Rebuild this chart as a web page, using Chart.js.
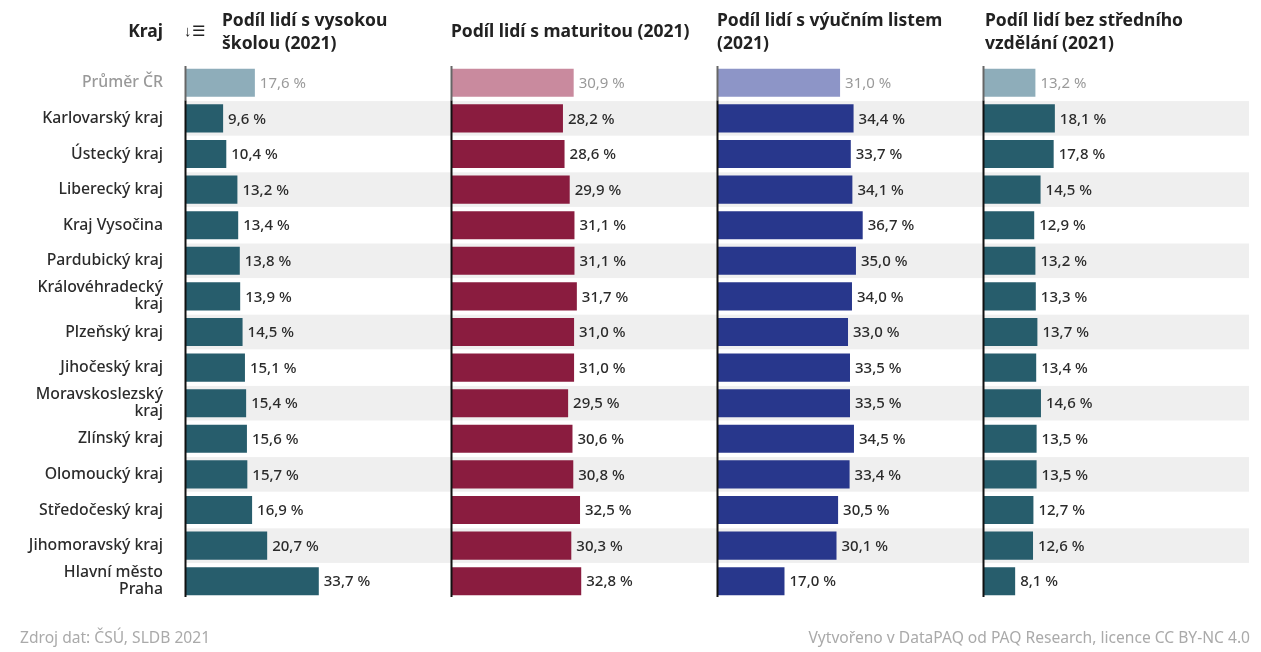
<!DOCTYPE html>
<html lang="cs">
<head>
<meta charset="utf-8">
<script src="https://cdn.jsdelivr.net/npm/chart.js@4"></script>
<style>
  html, body { margin:0; padding:0; background:#fff; }
  body { width:1261px; height:652px; position:relative; overflow:hidden; font-family:"Noto Sans", sans-serif; }
  #wrap { position:absolute; left:0; top:0; width:1261px; height:652px; }
  .hdr { position:absolute; font-weight:700; font-size:17.5px; line-height:23px; color:#222; }
  .foot { position:absolute; top:626px; font-size:15.6px; color:#aaa; }
</style>
</head>
<body>
<div id="wrap"><canvas id="c"></canvas></div>
<div class="hdr" style="left:0; width:163px; text-align:right; top:19px;">Kraj</div>
<div class="hdr" style="left:184px; top:19px; font-weight:400; font-size:15px;">↓☰</div>
<div class="hdr" style="left:222px; top:8px;">Podíl lidí s vysokou<br>školou (2021)</div>
<div class="hdr" style="left:451px; top:19px;">Podíl lidí s maturitou (2021)</div>
<div class="hdr" style="left:717px; top:8px;">Podíl lidí s výučním listem<br>(2021)</div>
<div class="hdr" style="left:985px; top:8px;">Podíl lidí bez středního<br>vzdělání (2021)</div>
<div class="foot" style="left:20px;">Zdroj dat: ČSÚ, SLDB 2021</div>
<div class="foot" style="right:11px;">Vytvořeno v DataPAQ od PAQ Research, licence CC BY-NC 4.0</div>
<script>
const categories = [
  "Průměr ČR", "Karlovarský kraj", "Ústecký kraj", "Liberecký kraj", "Kraj Vysočina",
  "Pardubický kraj", ["Královéhradecký", "kraj"], "Plzeňský kraj", "Jihočeský kraj",
  ["Moravskoslezský", "kraj"], "Zlínský kraj", "Olomoucký kraj", "Středočeský kraj",
  "Jihomoravský kraj", ["Hlavní město", "Praha"]
];
const vysokaSkola = [17.6, 9.6, 10.4, 13.2, 13.4, 13.8, 13.9, 14.5, 15.1, 15.4, 15.6, 15.7, 16.9, 20.7, 33.7];
const maturita    = [30.9, 28.2, 28.6, 29.9, 31.1, 31.1, 31.7, 31.0, 31.0, 29.5, 30.6, 30.8, 32.5, 30.3, 32.8];
const vyucniList  = [31.0, 34.4, 33.7, 34.1, 36.7, 35.0, 34.0, 33.0, 33.5, 33.5, 34.5, 33.4, 30.5, 30.1, 17.0];
const bezStredni  = [13.2, 18.1, 17.8, 14.5, 12.9, 13.2, 13.3, 13.7, 13.4, 14.6, 13.5, 13.5, 12.7, 12.6, 8.1];

const colors = [
  ["#8eadba", "#275d6c"],
  ["#c98a9e", "#8a1c3f"],
  ["#8d95c7", "#28378c"],
  ["#8eadba", "#275d6c"]
];
const seriesList = [vysokaSkola, maturita, vyucniList, bezStredni];
const FONT = '"Noto Sans", sans-serif';
const SCALE_MAX = 67;

const datasets = seriesList.map((data, i) => ({
  data: data,
  xAxisID: 'x' + (i + 1),
  grouped: false,
  barPercentage: 0.79,
  categoryPercentage: 1,
  backgroundColor: ctx => ctx.dataIndex === 0 ? colors[i][0] : colors[i][1],
  borderWidth: 0
}));

const scales = {
  y: {
    type: 'category',
    position: 'left',
    grid: { display: false, drawTicks: false },
    border: { display: false },
    ticks: {
      autoSkip: false,
      padding: 22,
      font: { family: FONT, size: 15.8, weight: '500', lineHeight: 1.08 },
      color: ctx => ctx.index === 0 ? '#999' : '#2b2b2b'
    },
    afterFit: s => { s.width = 185; }
  }
};
for (let i = 1; i <= 4; i++) {
  scales['x' + i] = {
    type: 'linear',
    position: 'bottom',
    stack: 'cols',
    stackWeight: 1,
    min: 0,
    max: SCALE_MAX,
    grid: { display: false, drawTicks: false },
    border: { display: false },
    ticks: { display: false },
    afterFit: s => { s.height = 0; }
  };
}

const bandPlugin = {
  id: 'bands',
  beforeDatasetsDraw(chart) {
    const { ctx, chartArea } = chart;
    const y = chart.scales.y;
    const step = y.getPixelForValue(1) - y.getPixelForValue(0);
    ctx.save();
    ctx.fillStyle = '#efefef';
    for (let i = 1; i < categories.length; i += 2) {
      const cy = y.getPixelForValue(i);
      ctx.fillRect(chartArea.left, cy - step / 2 + 0.5, chartArea.right - chartArea.left, step - 1);
    }
    ctx.restore();
  },
  afterDatasetsDraw(chart) {
    const { ctx, chartArea } = chart;
    const y = chart.scales.y;
    const step = y.getPixelForValue(1) - y.getPixelForValue(0);
    const firstBottom = y.getPixelForValue(0) + step / 2;
    ctx.save();
    for (let i = 1; i <= 4; i++) {
      const x = Math.round(chart.scales['x' + i].getPixelForValue(0)) + 0.5;
      ctx.lineWidth = 2;
      ctx.strokeStyle = '#666';
      ctx.beginPath(); ctx.moveTo(x, chartArea.top + 1); ctx.lineTo(x, firstBottom); ctx.stroke();
      ctx.strokeStyle = '#111';
      ctx.beginPath(); ctx.moveTo(x, firstBottom); ctx.lineTo(x, chartArea.bottom - 2); ctx.stroke();
    }
    ctx.textBaseline = 'middle';
    ctx.textAlign = 'left';
    chart.data.datasets.forEach((ds, di) => {
      const meta = chart.getDatasetMeta(di);
      meta.data.forEach((el, idx) => {
        const v = ds.data[idx];
        const txt = v.toFixed(1).replace('.', ',') + ' %';
        ctx.fillStyle = idx === 0 ? '#9a9a9a' : '#2b2b2b';
        ctx.font = (idx === 0 ? '400 ' : '500 ') + '15px ' + FONT;
        ctx.fillText(txt, el.x + 5, el.y + 1);
      });
    });
    ctx.restore();
  }
};

new Chart(document.getElementById('c'), {
  type: 'bar',
  data: { labels: categories, datasets: datasets },
  options: {
    indexAxis: 'y',
    responsive: true,
    maintainAspectRatio: false,
    animation: false,
    layout: { padding: { left: 0, right: 12, top: 65, bottom: 53 } },
    plugins: { legend: { display: false }, tooltip: { enabled: false } },
    scales: scales
  },
  plugins: [bandPlugin]
});
</script>
</body>
</html>
